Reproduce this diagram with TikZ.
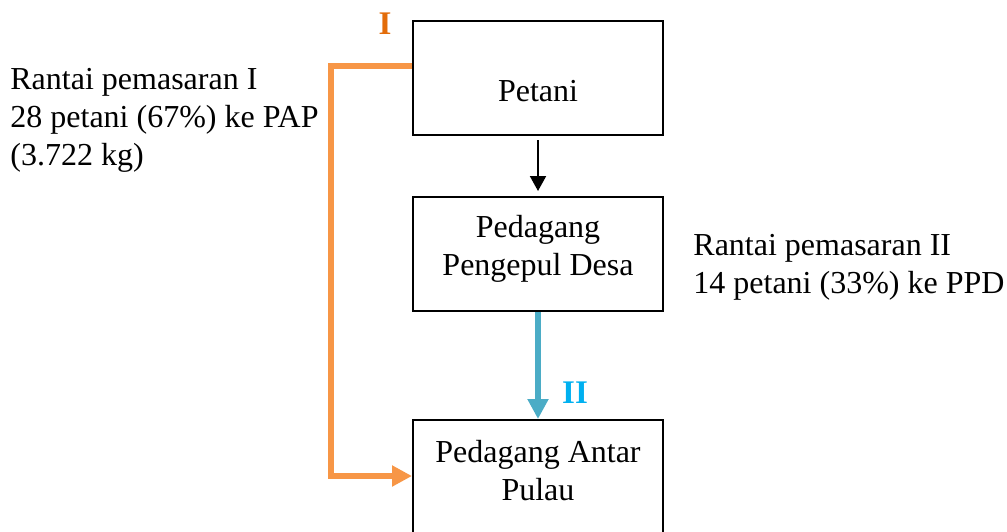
\documentclass[tikz,border=0pt]{standalone}
\usepackage{fontspec}
\setmainfont{Liberation Serif}
\usetikzlibrary{arrows.meta,calc}
\definecolor{orline}{HTML}{F79646}
\definecolor{orlabel}{HTML}{E36C09}
\definecolor{blline}{HTML}{4BACC6}
\definecolor{bllabel}{HTML}{00B0F0}
\tikzset{
  boxnode/.style={draw=black,line width=1pt,minimum width=125pt,minimum height=57pt,inner sep=0pt},
  txt/.style={inner sep=0pt,font=\fontsize{16}{19}\selectfont},
  lefttxt/.style={txt,align=left,anchor=west},
  centertxt/.style={txt,align=center},
  orarrow/.style={draw=orline,line width=3pt,-{Triangle[length=10pt,width=10pt]}},
  blarrow/.style={draw=blline,line width=3pt,-{Triangle[length=10pt,width=10pt]}},
  bkarrow/.style={draw=black,line width=1pt,-{Triangle[length=7.5pt,width=8pt]}},
  marklabel/.style={inner sep=0pt,font=\bfseries\fontsize{16.5}{19}\selectfont}
}
\begin{document}
\begin{tikzpicture}[x=0.5pt,y=-0.5pt]
\useasboundingbox (0,0) rectangle (1007,531);
\node[boxnode] (b1) at (538,78) {};
\node[boxnode] (b2) at (538,254) {};
\node[boxnode] (b3) at (538,477) {};
\node[centertxt] (t1) at (538,91) {Petani};
\node[centertxt] (t2) at (538,249) {Pedagang\\Pengepul Desa};
\node[centertxt] (t3) at (538,471) {Pedagang Antar\\Pulau};
\node[lefttxt] (l1) at (10,120) {Rantai pemasaran I\\28 petani (67\%) ke PAP\\(3.722 kg)};
\node[lefttxt] (l2) at (693,267) {Rantai pemasaran II\\14 petani (33\%) ke PPD};
\node[marklabel,text=orlabel] (m1) at (385,24) {I};
\node[marklabel,text=bllabel] (m2) at (575,393) {II};
\coordinate (o1) at (331,66);
\coordinate (o0) at (b1.west |- o1);
\coordinate (o2) at (331,476);
\coordinate (o3) at (b3.west |- o2);
\draw[orarrow] (o0) -- (o1) -- (o2) -- (o3);
\draw[bkarrow] ($(b1.south)+(0,-2pt)$) -- ($(b2.north)+(0,2.5pt)$);
\draw[blarrow] (b2.south) -- (b3.north);
\end{tikzpicture}
\end{document}
